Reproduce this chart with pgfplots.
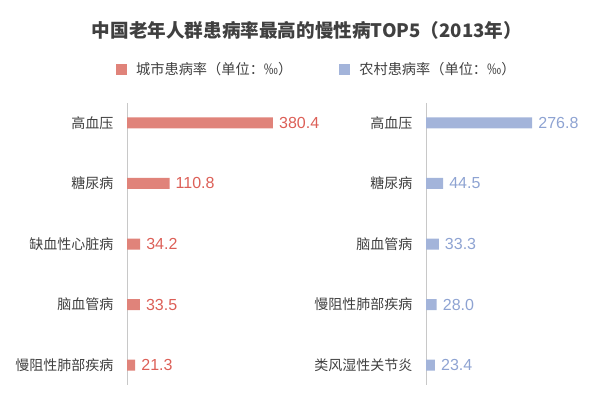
\documentclass[border=0pt]{standalone}
\usepackage{pgfplots}
\pgfplotsset{compat=1.18}
\usepackage{fontspec}
\setmainfont{Noto Sans CJK SC}
\newfontfamily\numfont{Liberation Sans}
\definecolor{redbar}{HTML}{E0837A}
\definecolor{redtxt}{HTML}{DC5F57}
\definecolor{bluebar}{HTML}{A3B4DA}
\definecolor{bluetxt}{HTML}{8EA3D2}
\definecolor{txt}{HTML}{404040}
\definecolor{axgray}{HTML}{C8C8C8}
\pgfplotsset{
 panel/.style={
  scale only axis, width=153.5bp, height=282bp,
  xmin=0, xmax=400, ymin=-0.33, ymax=4.33, y dir=reverse,
  hide x axis, axis y line*=left,
  axis line style={draw=axgray, line width=0.8bp, -},
  ytick={0,1,2,3,4}, major tick length=0pt,
  yticklabel style={font=\fontsize{14bp}{16bp}\selectfont, text=txt, xshift=-10bp},
  xbar, bar width=11bp, bar shift=0pt, clip=false,
  point meta=explicit symbolic,
  nodes near coords,
  nodes near coords style={font=\numfont\fontsize{16bp}{18bp}\selectfont, anchor=west, inner sep=0pt, xshift=6bp},
 }
}
\begin{document}
\begin{tikzpicture}
\path[use as bounding box] (0,0) rectangle (600bp,398bp);
\begin{axis}[panel, at={(127bp,13bp)}, anchor=south west,
  yticklabels={高血压,糖尿病,缺血性心脏病,脑血管病,慢阻性肺部疾病},
  title={中国老年人群患病率最高的慢性病TOP5（2013年）},
  every axis title shift=0pt,
  title style={at={(axis description cs:1.172,1.2589)}, anchor=center, font=\fontsize{18.6bp}{20bp}\selectfont\bfseries, text=txt},
  legend style={at={(axis description cs:-0.0717,1.1188)}, anchor=west, draw=none, fill=none, inner sep=0pt,
    legend columns=2, font=\fontsize{14.2bp}{16bp}\selectfont, text=txt, nodes={inner sep=0pt, anchor=west},
    /tikz/every odd column/.append style={column sep=9bp},
    /tikz/every even column/.append style={column sep=47bp}},
  legend image code/.code={\fill (0bp,-5.5bp) rectangle (11bp,5.5bp);},
]
\addplot[fill=redbar, draw=none, nodes near coords style={text=redtxt}] coordinates {
 (380.4,0) [380.4] (110.8,1) [110.8] (34.2,2) [34.2] (33.5,3) [33.5] (21.3,4) [21.3]};
\addlegendentry{城市患病率（单位：‰）}
\addlegendimage{fill=bluebar, draw=none}
\addlegendentry{农村患病率（单位：‰）}
\end{axis}
\begin{axis}[panel, at={(426bp,13bp)}, anchor=south west,
  yticklabels={高血压,糖尿病,脑血管病,慢阻性肺部疾病,类风湿性关节炎},
]
\addplot[fill=bluebar, draw=none, nodes near coords style={text=bluetxt}] coordinates {
 (276.8,0) [276.8] (44.5,1) [44.5] (33.3,2) [33.3] (28.0,3) [28.0] (23.4,4) [23.4]};
\end{axis}
\end{tikzpicture}
\end{document}
